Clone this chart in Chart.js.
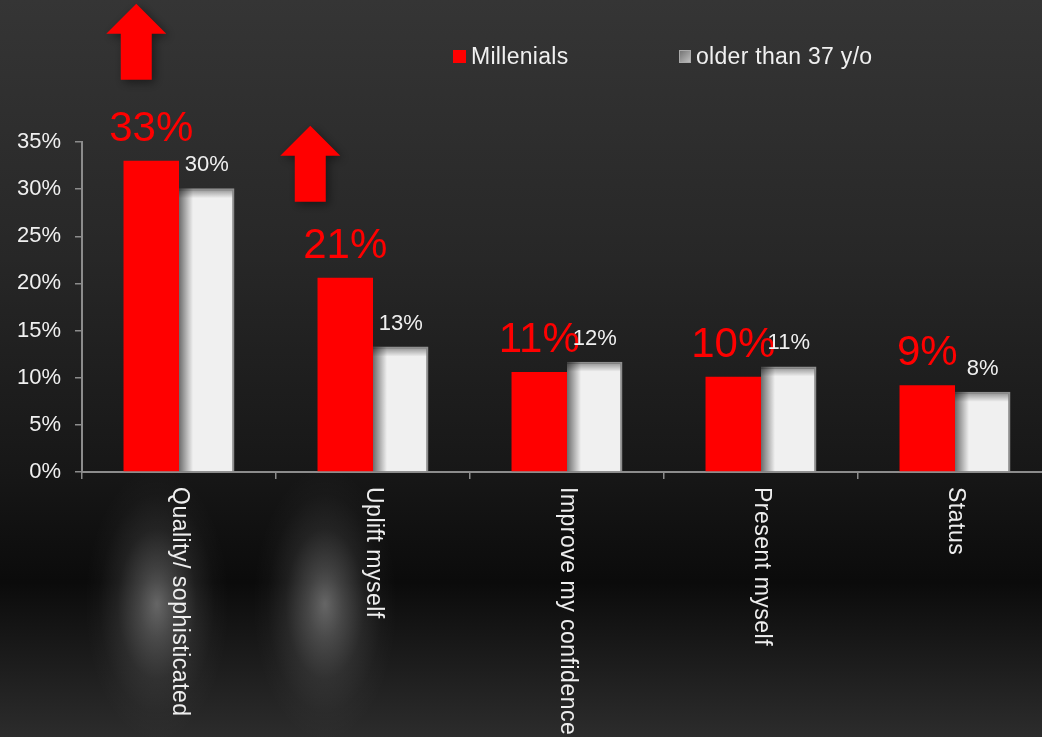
<!DOCTYPE html>
<html>
<head>
<meta charset="utf-8">
<script src="https://cdn.jsdelivr.net/npm/chart.js@4.4.1/dist/chart.umd.min.js"></script>
<style>
  html, body { margin: 0; padding: 0; background: #1a1a1a; overflow: hidden; }
  #wrap { width: 1062px; height: 737px; position: relative; }
</style>
</head>
<body>
<div id="wrap"><canvas id="motives"></canvas></div>
<script>
const categories = ['Quality/ sophisticated', 'Uplift myself', 'Improve my confidence', 'Present myself', 'Status'];
const millenials = [33, 20.6, 10.6, 10.1, 9.2];
const olderThan37 = [30.1, 13.3, 11.7, 11.2, 8.5];
const millenialsLabels = ['33%', '21%', '11%', '10%', '9%'];
const olderLabels = ['30%', '13%', '12%', '11%', '8%'];
const seriesNames = ['Millenials', 'older than 37 y/o'];
const arrowCategories = [0, 1];

const FONT = "'Liberation Sans', Arial, sans-serif";
const red = '#ff0000';
const light = '#f0f0f0';
const axisGray = '#8c8c8c';

// dark backdrop with soft glows under the first two categories
const backdrop = {
  id: 'backdrop',
  beforeDraw(chart) {
    const { ctx, width, height } = chart;
    ctx.save();
    const g = ctx.createLinearGradient(0, 0, 0, height);
    g.addColorStop(0, '#353535');
    g.addColorStop(0.35, '#272727');
    g.addColorStop(0.64, '#171717');
    g.addColorStop(0.79, '#0b0b0b');
    g.addColorStop(1, '#2c2c2c');
    ctx.fillStyle = g;
    ctx.fillRect(0, 0, width, height);

    const xs = chart.scales.x;
    [[0, -22], [1, -48]].forEach(([i, dx]) => {
      ctx.save();
      ctx.translate(xs.getPixelForValue(i) + dx, 604);
      ctx.scale(1, 1.9);
      const r = ctx.createRadialGradient(0, 0, 0, 0, 0, 72);
      r.addColorStop(0, 'rgba(255,255,255,0.36)');
      r.addColorStop(0.25, 'rgba(255,255,255,0.22)');
      r.addColorStop(0.55, 'rgba(255,255,255,0.08)');
      r.addColorStop(0.8, 'rgba(255,255,255,0.02)');
      r.addColorStop(1, 'rgba(255,255,255,0)');
      ctx.fillStyle = r;
      ctx.beginPath();
      ctx.arc(0, 0, 72, 0, Math.PI * 2);
      ctx.fill();
      ctx.restore();
    });
    ctx.restore();
  }
};

const decorations = {
  id: 'decorations',
  afterDatasetsDraw(chart) {
    const { ctx } = chart;
    const redBars = chart.getDatasetMeta(0).data;
    const greyBars = chart.getDatasetMeta(1).data;
    ctx.save();

    // inner shading on the light bars
    greyBars.forEach(b => {
      const left = b.x - b.width / 2;
      let g = ctx.createLinearGradient(left, 0, left + 14, 0);
      g.addColorStop(0, 'rgba(0,0,0,0.55)');
      g.addColorStop(1, 'rgba(0,0,0,0)');
      ctx.fillStyle = g;
      ctx.fillRect(left, b.y, 14, b.base - b.y);
      g = ctx.createLinearGradient(0, b.y + 2, 0, b.y + 10);
      g.addColorStop(0, 'rgba(0,0,0,0.35)');
      g.addColorStop(1, 'rgba(0,0,0,0)');
      ctx.fillStyle = g;
      ctx.fillRect(left, b.y + 2, b.width - 2, 8);
    });

    // value labels
    ctx.textAlign = 'center';
    ctx.textBaseline = 'alphabetic';
    ctx.fillStyle = red;
    ctx.font = `42px ${FONT}`;
    redBars.forEach((b, i) => ctx.fillText(millenialsLabels[i], b.x, b.y - 20));
    ctx.fillStyle = light;
    ctx.font = `22px ${FONT}`;
    greyBars.forEach((b, i) => ctx.fillText(olderLabels[i], b.x, b.y - 17));

    // up arrows
    const arrowPlace = [{ dx: -15, rise: 157 }, { dx: -35, rise: 152 }];
    arrowCategories.forEach((i, k) => {
      const b = redBars[i];
      const cx = b.x + arrowPlace[k].dx;
      const tip = b.y - arrowPlace[k].rise;
      ctx.save();
      ctx.shadowColor = 'rgba(0,0,0,0.45)';
      ctx.shadowBlur = 10;
      ctx.shadowOffsetX = 3;
      ctx.shadowOffsetY = 3;
      ctx.fillStyle = red;
      ctx.beginPath();
      ctx.moveTo(cx, tip);
      ctx.lineTo(cx + 30, tip + 30);
      ctx.lineTo(cx + 15.5, tip + 30);
      ctx.lineTo(cx + 15.5, tip + 76);
      ctx.lineTo(cx - 15.5, tip + 76);
      ctx.lineTo(cx - 15.5, tip + 30);
      ctx.lineTo(cx - 30, tip + 30);
      ctx.closePath();
      ctx.fill();
      ctx.restore();
    });
    ctx.restore();
  },
  afterDraw(chart) {
    const { ctx } = chart;
    const xs = chart.scales.x;
    ctx.save();

    // legend
    ctx.font = `23px ${FONT}`;
    ctx.textAlign = 'left';
    ctx.textBaseline = 'alphabetic';
    ctx.fillStyle = red;
    ctx.fillRect(453, 50, 13, 13);
    const lg = ctx.createLinearGradient(679, 50, 692, 63);
    lg.addColorStop(0, '#6e6e6e');
    lg.addColorStop(1, '#c8c8c8');
    ctx.fillStyle = lg;
    ctx.fillRect(679, 50, 12, 13);
    ctx.strokeStyle = '#aaaaaa';
    ctx.lineWidth = 1;
    ctx.strokeRect(679.5, 50.5, 11, 12);
    ctx.fillStyle = light;
    ctx.letterSpacing = '0.3px';
    ctx.fillText(seriesNames[0], 471, 64);
    ctx.fillText(seriesNames[1], 696, 64);

    // category labels, rotated to read top to bottom
    ctx.font = `23px ${FONT}`;
    ctx.letterSpacing = '0.5px';
    ctx.fillStyle = '#eeeeee';
    ctx.textBaseline = 'middle';
    categories.forEach((c, i) => {
      ctx.save();
      ctx.translate(xs.getPixelForValue(i), xs.top + 15);
      ctx.rotate(Math.PI / 2);
      ctx.fillText(c, 0, 0);
      ctx.restore();
    });
    ctx.restore();
  }
};

new Chart('motives', {
  type: 'bar',
  data: {
    labels: categories,
    datasets: [
      {
        label: seriesNames[0],
        data: millenials,
        backgroundColor: red,
        borderWidth: 0,
        categoryPercentage: 0.572,
        barPercentage: 1
      },
      {
        label: seriesNames[1],
        data: olderThan37,
        backgroundColor: light,
        borderColor: '#8e8e8e',
        borderWidth: { top: 2, right: 2, left: 0, bottom: 0 },
        categoryPercentage: 0.572,
        barPercentage: 1
      }
    ]
  },
  options: {
    responsive: true,
    maintainAspectRatio: false,
    animation: false,
    layout: { padding: { top: 142, right: 10, left: 0, bottom: 0 } },
    plugins: {
      legend: { display: false },
      tooltip: { enabled: false }
    },
    scales: {
      x: {
        grid: { drawOnChartArea: false, drawTicks: true, tickLength: 7, color: axisGray, lineWidth: 1.5 },
        border: { color: axisGray, width: 2 },
        ticks: { display: false },
        afterFit(scale) { scale.height = 265; }
      },
      y: {
        min: 0,
        max: 35,
        ticks: {
          stepSize: 5,
          color: light,
          padding: 14,
          font: { family: FONT, size: 22 },
          callback: v => v + '%'
        },
        grid: { drawOnChartArea: false, tickLength: 7, color: axisGray, lineWidth: 1.5 },
        border: { color: axisGray, width: 2 },
        afterFit(scale) { scale.width = 82; }
      }
    }
  },
  plugins: [backdrop, decorations]
});
</script>
</body>
</html>
